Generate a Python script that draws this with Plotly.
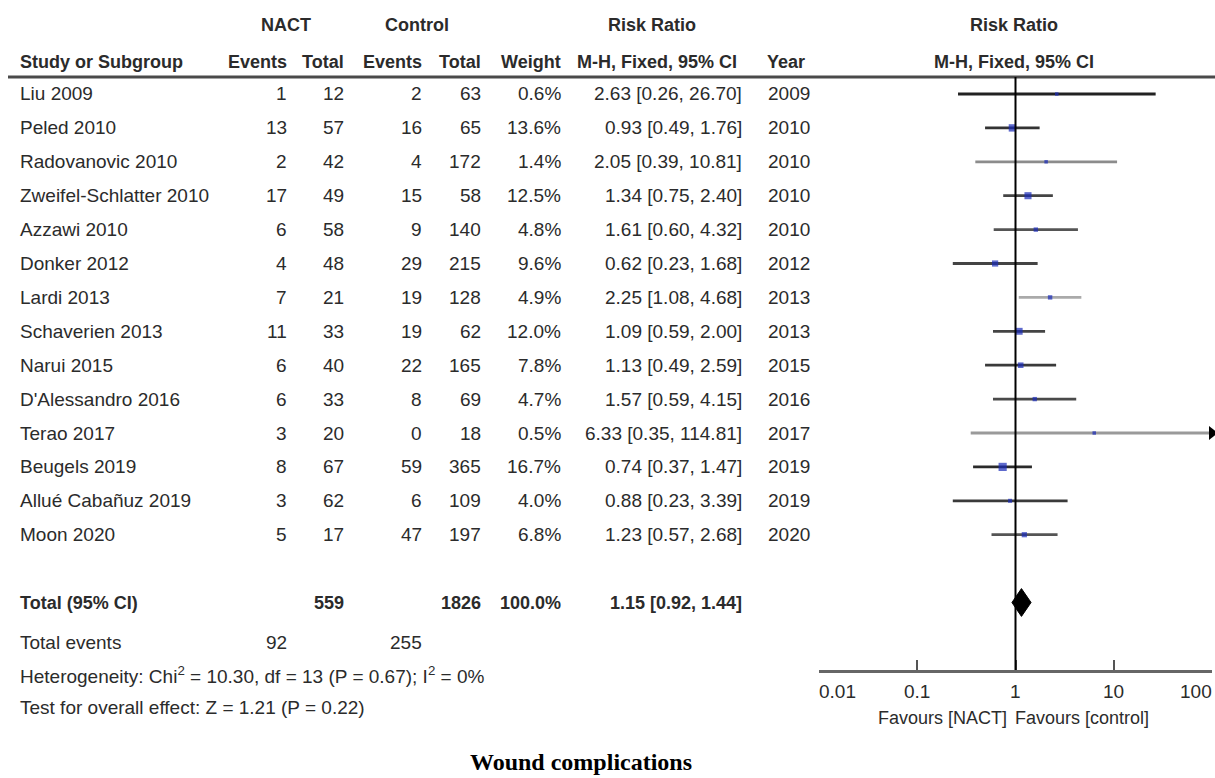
import math
import plotly.graph_objects as go

# ---------------- data ----------------
studies = ["Liu 2009", "Peled 2010", "Radovanovic 2010", "Zweifel-Schlatter 2010",
           "Azzawi 2010", "Donker 2012", "Lardi 2013", "Schaverien 2013", "Narui 2015",
           "D'Alessandro 2016", "Terao 2017", "Beugels 2019", "Allué Cabañuz 2019", "Moon 2020"]
nact_events = [1, 13, 2, 17, 6, 4, 7, 11, 6, 6, 3, 8, 3, 5]
nact_total = [12, 57, 42, 49, 58, 48, 21, 33, 40, 33, 20, 67, 62, 17]
ctrl_events = [2, 16, 4, 15, 9, 29, 19, 19, 22, 8, 0, 59, 6, 47]
ctrl_total = [63, 65, 172, 58, 140, 215, 128, 62, 165, 69, 18, 365, 109, 197]
weights = [0.6, 13.6, 1.4, 12.5, 4.8, 9.6, 4.9, 12.0, 7.8, 4.7, 0.5, 16.7, 4.0, 6.8]
rr = [2.63, 0.93, 2.05, 1.34, 1.61, 0.62, 2.25, 1.09, 1.13, 1.57, 6.33, 0.74, 0.88, 1.23]
rr_lo = [0.26, 0.49, 0.39, 0.75, 0.60, 0.23, 1.08, 0.59, 0.49, 0.59, 0.35, 0.37, 0.23, 0.57]
rr_hi = [26.70, 1.76, 10.81, 2.40, 4.32, 1.68, 4.68, 2.00, 2.59, 4.15, 114.81, 1.47, 3.39, 2.68]
years = [2009, 2010, 2010, 2010, 2010, 2012, 2013, 2013, 2015, 2016, 2017, 2019, 2019, 2020]

total_nact = 559
total_ctrl = 1826
total_weight = 100.0
total_rr = 1.15
total_lo = 0.92
total_hi = 1.44
events_nact = 92
events_ctrl = 255
heterogeneity = "Heterogeneity: Chi<sup>2</sup> = 10.30, df = 13 (P = 0.67); I<sup>2</sup> = 0%"
overall = "Test for overall effect: Z = 1.21 (P = 0.22)"
axis_ticks = [0.01, 0.1, 1, 10, 100]
axis_ticktext = ["0.01", "0.1", "1", "10", "100"]

# ---------------- layout constants (screen pixels) ----------------
OFF = 0                      # body margin removed via post_script
W, H = 1215, 778
ROW0_PX, ROW_STEP = 94.0, 33.9
AXIS_PX = 670.0
X_LEFT_PX, X_RIGHT_PX = 819.0, 1212.0

def row_of(p):
    return (p - ROW0_PX) / ROW_STEP

def row_px(r):
    return ROW0_PX + r * ROW_STEP

y_top = row_of(OFF)
y_bot = row_of(AXIS_PX)

def px(x):
    return (x - OFF) / W

def py(y):
    return 1 - (y - OFF) / H

FONT = "Liberation Sans, Arial, sans-serif"
TXT = "#2b2b2b"
BODY = 19
HEAD = 18

line_colors = ["#222222", "#333333", "#8c8c8c", "#444444", "#555555", "#444444", "#aaaaaa",
               "#444444", "#3a3a3a", "#4a4a4a", "#9a9a9a", "#2a2a2a", "#3a3a3a", "#555555"]

fig = go.Figure()

# CI lines
for i, name in enumerate(studies):
    hi_clip = min(rr_hi[i], 100)
    fig.add_trace(go.Scatter(x=[rr_lo[i], hi_clip], y=[i, i], mode="lines",
                             line=dict(color=line_colors[i], width=2.8),
                             hoverinfo="skip", showlegend=False, cliponaxis=False))
    if rr_hi[i] > 100:
        fig.add_trace(go.Scatter(x=[100], y=[i], mode="markers",
                                 marker=dict(symbol="triangle-right", size=12, color="black"),
                                 hoverinfo="skip", showlegend=False, cliponaxis=False))

# weight squares
fig.add_trace(go.Scatter(
    x=rr, y=list(range(len(studies))), mode="markers",
    marker=dict(symbol="square", color="#1a2bb8",
                size=[max(3.5, 2.0 * w ** 0.5) for w in weights], line=dict(width=0)),
    hoverinfo="skip", showlegend=False, cliponaxis=False))

# summary diamond
total_row = 15
dh = 0.41
fig.add_trace(go.Scatter(
    x=[total_lo, total_rr, total_hi, total_rr, total_lo],
    y=[total_row, total_row - dh, total_row, total_row + dh, total_row],
    mode="lines", fill="toself", fillcolor="black", line=dict(color="black", width=1),
    hoverinfo="skip", showlegend=False))

shapes = []
header_row = -0.5
shapes.append(dict(type="line", xref="paper", yref="y", x0=px(8), x1=1.0,
                   y0=header_row, y1=header_row, line=dict(color="#4a4a4a", width=3)))
shapes.append(dict(type="line", xref="x", yref="y", x0=1, x1=1,
                   y0=header_row, y1=y_bot, line=dict(color="black", width=2)))

ann = []

def add(text, xpos, ypx, anchor="left", bold=False, size=None, color=TXT, family=FONT,
        xref="paper", xshift=0):
    t = f"<b>{text}</b>" if bold else text
    xv = px(xpos) if xref == "paper" else math.log10(xpos)   # log axis -> log units
    ann.append(dict(text=t, x=xv, xref=xref,
                    y=py(ypx), yref="paper", xanchor=anchor, yanchor="middle",
                    showarrow=False, xshift=xshift,
                    font=dict(family=family, size=size or (HEAD if bold else BODY), color=color)))

# headers
r1, r2 = 25, 62
add("NACT", 286, r1, "center", bold=True)
add("Control", 417, r1, "center", bold=True)
add("Risk Ratio", 652, r1, "center", bold=True)
add("Risk Ratio", 1014, r1, "center", bold=True)
add("Study or Subgroup", 18, r2, "left", bold=True)
add("Events", 289, r2, "right", bold=True)
add("Total", 346, r2, "right", bold=True)
add("Events", 424, r2, "right", bold=True)
add("Total", 483, r2, "right", bold=True)
add("Weight", 563, r2, "right", bold=True)
add("M-H, Fixed, 95% CI", 657, r2, "center", bold=True)
add("Year", 786, r2, "center", bold=True)
add("M-H, Fixed, 95% CI", 1014, r2, "center", bold=True)

# study rows
for i, name in enumerate(studies):
    yy = row_px(i)
    add(name, 18, yy, "left")
    add(str(nact_events[i]), 289, yy, "right")
    add(str(nact_total[i]), 346, yy, "right")
    add(str(ctrl_events[i]), 424, yy, "right")
    add(str(ctrl_total[i]), 483, yy, "right")
    add(f"{weights[i]:.1f}%", 563, yy, "right")
    add(f"{rr[i]:.2f} [{rr_lo[i]:.2f}, {rr_hi[i]:.2f}]", 744, yy, "right")
    add(str(years[i]), 766, yy, "left")

# totals
ty = row_px(total_row)
add("Total (95% CI)", 18, ty, "left", bold=True)
add(str(total_nact), 346, ty, "right", bold=True)
add(str(total_ctrl), 483, ty, "right", bold=True)
add(f"{total_weight:.1f}%", 563, ty, "right", bold=True)
add(f"{total_rr:.2f} [{total_lo:.2f}, {total_hi:.2f}]", 744, ty, "right", bold=True)
add("Total events", 18, 642, "left")
add(str(events_nact), 289, 642, "right")
add(str(events_ctrl), 424, 642, "right")
add(heterogeneity, 18, 675, "left")
add(overall, 18, 707, "left")

# axis tick labels
for v, t in zip(axis_ticks, axis_ticktext):
    anchor = "left" if v == axis_ticks[0] else ("right" if v == axis_ticks[-1] else "center")
    add(t, v, 691, anchor, xref="x",
        xshift=(-2 if anchor == "left" else (2 if anchor == "right" else 0)))

add("Favours [NACT]", 1, 718, "right", xref="x", size=18, xshift=-7)
add("Favours [control]", 1, 718, "left", xref="x", size=18, xshift=-3)

# caption
add("<b>Wound complications</b>", 581, 762, "center",
    family="Liberation Serif, Times New Roman, serif", size=24, color="black")

fig.update_layout(
    width=W, height=H, margin=dict(l=0, r=0, t=0, b=0),
    paper_bgcolor="white", plot_bgcolor="white",
    xaxis=dict(type="log", range=[-2, 2], domain=[px(X_LEFT_PX), px(X_RIGHT_PX)],
               tickvals=axis_ticks, showticklabels=False, ticks="inside", ticklen=10,
               tickwidth=2, tickcolor="#555555", showgrid=False, zeroline=False,
               showline=True, linecolor="#666666", linewidth=3, fixedrange=True),
    yaxis=dict(range=[y_bot, y_top], domain=[1 - (AXIS_PX - OFF) / H, 1], visible=False,
               showgrid=False, zeroline=False, fixedrange=True),
    shapes=shapes, annotations=ann, showlegend=False,
)

fig.write_html("out.html", config={"displayModeBar": False},
               post_script="document.body.style.margin='0';document.body.style.overflow='hidden';")
